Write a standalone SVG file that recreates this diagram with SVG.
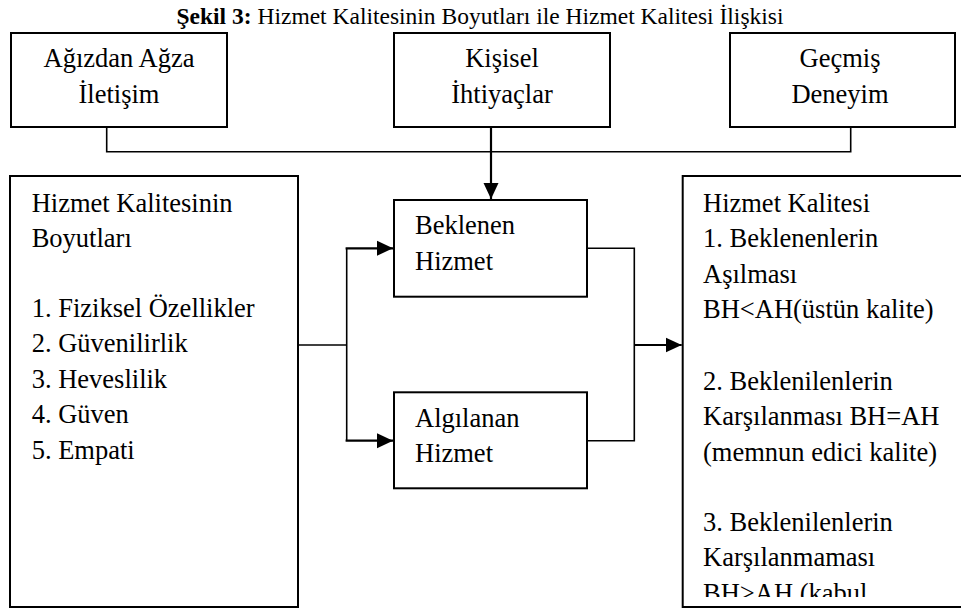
<svg xmlns="http://www.w3.org/2000/svg" width="961" height="611" viewBox="0 0 961 611">
<style>
.box{fill:#fff;stroke:#000;stroke-width:2}
.t{font-family:"Liberation Serif","Times New Roman",serif;font-size:26.5px;fill:#000}
.c{text-anchor:middle}
.ln{fill:none;stroke:#000;stroke-width:1.6}
.ar{fill:none;stroke:#000;stroke-width:2.2}
.title{font-family:"Liberation Serif","Times New Roman",serif;font-size:23.5px;fill:#000;text-anchor:middle}
</style>
<defs>
<marker id="ah" viewBox="0 0 16 16" refX="16" refY="8" markerWidth="16" markerHeight="16" markerUnits="userSpaceOnUse" orient="auto">
<path d="M0,0.5 L16,8 L0,15.5 Z" fill="#000"/>
</marker>
<clipPath id="rc"><rect x="683" y="176" width="280" height="421"/></clipPath>
</defs>
<rect width="961" height="611" fill="#fff"/>
<text class="title" x="480" y="24"><tspan font-weight="bold">Şekil 3:</tspan> Hizmet Kalitesinin Boyutları ile Hizmet Kalitesi İlişkisi</text>

<g id="connectors">
<polyline class="ln" points="106.7,126.7 106.7,151.7 850.7,151.7 850.7,126.7"/>
<line class="ar" x1="491" y1="127.3" x2="491" y2="199" marker-end="url(#ah)"/>
<line class="ln" x1="298" y1="345" x2="346.7" y2="345"/>
<line class="ln" x1="346.7" y1="248.3" x2="346.7" y2="440.7"/>
<line class="ar" x1="345.6" y1="248.3" x2="393" y2="248.3" marker-end="url(#ah)"/>
<line class="ar" x1="345.6" y1="440.7" x2="393" y2="440.7" marker-end="url(#ah)"/>
<polyline class="ln" points="587,248.3 634.3,248.3 634.3,440.7 587,440.7"/>
<line class="ar" x1="634.3" y1="345" x2="681.7" y2="345" marker-end="url(#ah)"/>
</g>

<g id="agizdan">
<rect class="box" x="11" y="33" width="216" height="94"/>
<text class="t c" x="119" y="67.3">Ağızdan Ağza</text>
<text class="t c" x="119" y="103.3">İletişim</text>
</g>
<g id="kisisel">
<rect class="box" x="394" y="33" width="216" height="94"/>
<text class="t c" x="502" y="67.3">Kişisel</text>
<text class="t c" x="502" y="103.3">İhtiyaçlar</text>
</g>
<g id="gecmis">
<rect class="box" x="730" y="33" width="225" height="94"/>
<text class="t c" x="840" y="67.3">Geçmiş</text>
<text class="t c" x="840" y="103.3">Deneyim</text>
</g>

<g id="boyutlar">
<rect class="box" x="10" y="176" width="288" height="431"/>
<text class="t" x="31.7" y="211.7">Hizmet Kalitesinin</text>
<text class="t" x="31.7" y="247.2">Boyutları</text>
<text class="t" x="31.7" y="316.5">1. Fiziksel Özellikler</text>
<text class="t" x="31.7" y="352">2. Güvenilirlik</text>
<text class="t" x="31.7" y="387.5">3. Heveslilik</text>
<text class="t" x="31.7" y="423">4. Güven</text>
<text class="t" x="31.7" y="458.5">5. Empati</text>
</g>

<g id="beklenen">
<rect class="box" x="394" y="200" width="193" height="96.7"/>
<text class="t" x="415" y="234.3">Beklenen</text>
<text class="t" x="415" y="270">Hizmet</text>
</g>
<g id="algilanan">
<rect class="box" x="394" y="392.3" width="193" height="96"/>
<text class="t" x="415" y="426.6">Algılanan</text>
<text class="t" x="415" y="462.3">Hizmet</text>
</g>

<g id="kalite">
<rect class="box" x="682.7" y="176" width="290" height="431"/>
<g clip-path="url(#rc)">
<text class="t" x="703" y="211.7">Hizmet Kalitesi</text>
<text class="t" x="703" y="247.3">1. Beklenenlerin</text>
<text class="t" x="703" y="283">Aşılması</text>
<text class="t" x="703" y="318.3">BH&lt;AH(üstün kalite)</text>
<text class="t" x="703" y="390">2. Beklenilenlerin</text>
<text class="t" x="703" y="425.3">Karşılanması BH=AH</text>
<text class="t" x="703" y="460.7">(memnun edici kalite)</text>
<text class="t" x="703" y="530.5">3. Beklenilenlerin</text>
<text class="t" x="703" y="566">Karşılanmaması</text>
<text class="t" x="703" y="601.5">BH&gt;AH (kabul</text>
</g>
</g>
</svg>
